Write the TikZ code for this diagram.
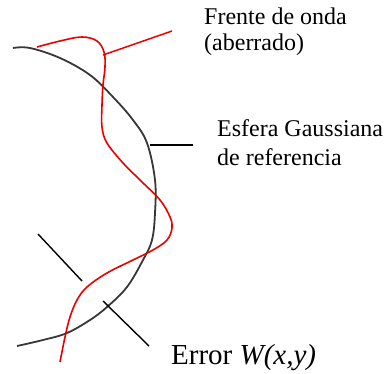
\documentclass[tikz,border=0pt]{standalone}
\usepackage{fontspec}
\setmainfont{Liberation Serif}
\definecolor{arcgray}{RGB}{55,55,55}
\definecolor{wavered}{RGB}{235,0,0}
\begin{document}
\begin{tikzpicture}[x=1pt,y=-1pt,
  lbl/.style={anchor=base west,inner sep=0pt,font=\fontsize{24}{27}\selectfont},
  biglbl/.style={anchor=base west,inner sep=0pt,font=\fontsize{29}{32}\selectfont},
  sphere/.style={draw=arcgray,line width=1.8pt},
  wave/.style={draw=wavered,line width=1.6pt},
  leader/.style={draw=black,line width=1.4pt},
  redleader/.style={draw=wavered,line width=1.5pt}]
\useasboundingbox (0,0) rectangle (389,373);
% reference sphere
\draw[sphere] plot[smooth,tension=0.6] coordinates {(13,48) (30,48) (60,58) (90,75) (113,97) (133,120) (147,143) (155,180) (155,213) (152,240) (143,260) (127,287) (107,307) (90,320) (67,333) (43,340) (17,346)};
% aberrated wavefront
\draw[wave] plot[smooth,tension=0.6] coordinates {(37,47) (60,41) (82,37) (97,41) (104,52) (105,67) (103,85) (102,105) (102,127) (107,143) (123,163) (140,180) (160,200) (170,217) (172,228) (167,240) (153,250) (133,260) (107,273) (87,287) (77,300) (70,317) (65,337) (60,362)};
% labels
\node[lbl] (f1) at (204,24) {Frente de onda};
\node[lbl] (f2) at (204,50) {(aberrado)};
\node[lbl] (e1) at (217,136) {Esfera Gaussiana};
\node[lbl] (e2) at (217,165) {de referencia};
\node[biglbl] (err) at (171,364) {Error \textit{W(x,y)}};
% leader coordinates
\coordinate (ra) at (103,55);
\coordinate (rb) at (172,31);
\coordinate (ea) at (150,145);
\coordinate (eb) at (193,145);
\coordinate (d1a) at (38,234);
\coordinate (d1b) at (82,281);
\coordinate (d2a) at (103,301);
\coordinate (d2b) at (149,346);
\draw[redleader] (ra) -- (rb);
\draw[leader,line width=1.8pt] (ea) -- (eb);
\draw[leader] (d1a) -- (d1b);
\draw[leader] (d2a) -- (d2b);
\end{tikzpicture}
\end{document}
